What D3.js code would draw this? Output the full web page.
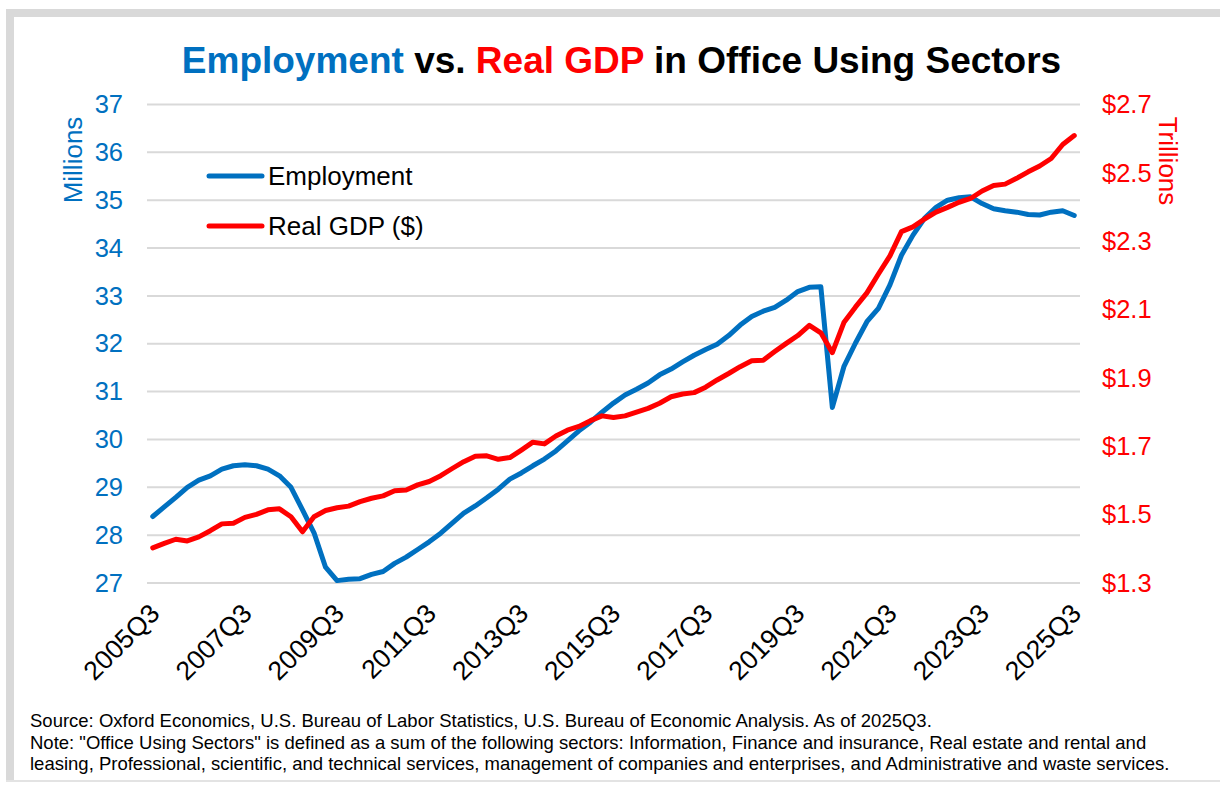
<!DOCTYPE html>
<html>
<head>
<meta charset="utf-8">
<script src="https://cdn.jsdelivr.net/npm/d3@7/dist/d3.min.js"></script>
<style>
  body { margin: 0; background: #ffffff; }
  svg { display: block; font-family: "Liberation Sans", Arial, sans-serif; }
</style>
</head>
<body>
<div id="chart"></div>
<script>
// quarterly series, 2005Q3 .. 2025Q3
const startYear = 2005;
const startQuarter = 3;
const employment = [
    28.39, 28.59, 28.79, 29.00, 29.15, 29.24, 29.38, 29.45, 29.47, 29.45,
    29.38, 29.24, 29.00, 28.53, 28.05, 27.33, 27.05, 27.08, 27.09, 27.18,
    27.24, 27.41, 27.54, 27.70, 27.86, 28.04, 28.25, 28.46, 28.61, 28.78,
    28.96, 29.17, 29.30, 29.45, 29.59, 29.76, 29.97, 30.18, 30.36, 30.57,
    30.76, 30.93, 31.05, 31.18, 31.35, 31.47, 31.62, 31.76, 31.88, 31.99,
    32.17, 32.39, 32.57, 32.68, 32.76, 32.91, 33.09, 33.18, 33.19, 30.67,
    31.52, 32.01, 32.46, 32.74, 33.23, 33.85, 34.27, 34.62, 34.85, 35.00,
    35.05, 35.07, 34.93, 34.82, 34.78, 34.75, 34.70, 34.69, 34.75, 34.78,
    34.68
];
const realGdp = [
    1.403, 1.416, 1.428, 1.423, 1.435, 1.453, 1.473, 1.475, 1.492, 1.501,
    1.514, 1.517, 1.494, 1.450, 1.494, 1.512, 1.520, 1.525, 1.538, 1.548,
    1.555, 1.570, 1.572, 1.587, 1.597, 1.614, 1.635, 1.655, 1.671, 1.672,
    1.662, 1.667, 1.689, 1.712, 1.707, 1.730, 1.747, 1.758, 1.775, 1.789,
    1.784, 1.789, 1.800, 1.811, 1.826, 1.845, 1.853, 1.857, 1.873, 1.894,
    1.913, 1.933, 1.950, 1.952, 1.977, 2.001, 2.024, 2.054, 2.032, 1.974,
    2.062, 2.107, 2.149, 2.204, 2.257, 2.328, 2.342, 2.365, 2.385, 2.399,
    2.414, 2.425, 2.447, 2.463, 2.467, 2.484, 2.503, 2.520, 2.542, 2.583,
    2.609
];
const xTickLabels = ["2005Q3", "2007Q3", "2009Q3", "2011Q3", "2013Q3", "2015Q3", "2017Q3", "2019Q3", "2021Q3", "2023Q3", "2025Q3"];
const leftTicks = [27, 28, 29, 30, 31, 32, 33, 34, 35, 36, 37];
const rightTicks = [1.3, 1.5, 1.7, 1.9, 2.1, 2.3, 2.5, 2.7];
const seriesNames = ["Employment", "Real GDP ($)"];
const footnotes = [
    "Source: Oxford Economics, U.S. Bureau of Labor Statistics, U.S. Bureau of Economic Analysis. As of 2025Q3.",
    "Note: \"Office Using Sectors\" is defined as a sum of the following sectors: Information, Finance and insurance, Real estate and rental and",
    "leasing, Professional, scientific, and technical services, management of companies and enterprises, and Administrative and waste services."
];

function drawChart() {
    const width = 1220;
    const height = 786;
    const blue = "#0070c0";
    const red = "#ff0000";
    const plot = { left: 147, right: 1080, top: 104.5, bottom: 583 };

    const quarters = employment.map((_, i) => {
        const q = startQuarter - 1 + i;
        return `${startYear + Math.floor(q / 4)}Q${(q % 4) + 1}`;
    });

    const svg = d3.select("#chart").append("svg").attr("width", width).attr("height", height);

    // frame
    svg.append("rect").attr("x", 6).attr("y", 9).attr("width", width).attr("height", 8).attr("fill", "#d9d9d9");
    svg.append("rect").attr("x", 6).attr("y", 9).attr("width", 8).attr("height", 773).attr("fill", "#d9d9d9");
    svg.append("rect").attr("x", 6).attr("y", 780).attr("width", width).attr("height", 2).attr("fill", "#e3e3e3");

    const x = d3.scalePoint().domain(quarters).range([plot.left, plot.right]).padding(0.5);
    const yLeft = d3.scaleLinear().domain([27, 37]).range([plot.bottom, plot.top]);
    const yRight = d3.scaleLinear().domain([1.3, 2.7]).range([plot.bottom, plot.top]);

    // title
    const title = svg.append("text").attr("x", 621.5).attr("y", 73).attr("text-anchor", "middle")
        .style("font-size", "37px").style("font-weight", "700");
    title.append("tspan").attr("fill", blue).text("Employment");
    title.append("tspan").attr("fill", "#000").text(" vs. ");
    title.append("tspan").attr("fill", red).text("Real GDP");
    title.append("tspan").attr("fill", "#000").text(" in Office Using Sectors");

    // gridlines
    svg.append("g").selectAll("line").data(leftTicks).join("line")
        .attr("x1", plot.left).attr("x2", plot.right)
        .attr("y1", d => yLeft(d)).attr("y2", d => yLeft(d))
        .attr("stroke", "#d9d9d9").attr("stroke-width", 2);

    // left axis
    const leftAxis = svg.append("g").attr("transform", `translate(${plot.left},0)`)
        .call(d3.axisLeft(yLeft).tickValues(leftTicks).tickSize(0).tickPadding(24).tickFormat(d3.format("d")));
    leftAxis.select(".domain").remove();
    leftAxis.selectAll("text").attr("fill", blue).style("font-size", "25.5px").style("font-family", "inherit");

    // right axis
    const rightAxis = svg.append("g").attr("transform", `translate(${plot.right},0)`)
        .call(d3.axisRight(yRight).tickValues(rightTicks).tickSize(0).tickPadding(22).tickFormat(d => "$" + d3.format(".1f")(d)));
    rightAxis.select(".domain").remove();
    rightAxis.selectAll("text").attr("fill", red).style("font-size", "25.5px").style("font-family", "inherit");

    // x axis
    const xAxis = svg.append("g").attr("transform", `translate(0,${plot.bottom})`)
        .call(d3.axisBottom(x).tickValues(xTickLabels).tickSize(0).tickPadding(0));
    xAxis.select(".domain").remove();
    xAxis.selectAll("text")
        .attr("fill", "#000").style("font-size", "26.5px").style("font-family", "inherit")
        .attr("text-anchor", "end").attr("dy", null).attr("y", 0)
        .attr("transform", "translate(8,32) rotate(-45)");

    // axis titles
    svg.append("text").attr("transform", "translate(82,160) rotate(-90)").attr("text-anchor", "middle")
        .attr("fill", blue).style("font-size", "26px").text("Millions");
    svg.append("text").attr("transform", "translate(1159,161) rotate(90)").attr("text-anchor", "middle")
        .attr("fill", red).style("font-size", "26px").text("Trillions");

    // lines
    const empLine = d3.line().x((d, i) => x(quarters[i])).y(d => yLeft(d));
    const gdpLine = d3.line().x((d, i) => x(quarters[i])).y(d => yRight(d));
    svg.append("path").datum(employment).attr("d", empLine).attr("fill", "none")
        .attr("stroke", blue).attr("stroke-width", 5).attr("stroke-linejoin", "round").attr("stroke-linecap", "round");
    svg.append("path").datum(realGdp).attr("d", gdpLine).attr("fill", "none")
        .attr("stroke", red).attr("stroke-width", 5).attr("stroke-linejoin", "round").attr("stroke-linecap", "round");

    // legend
    const legend = svg.append("g").selectAll("g").data(seriesNames).join("g")
        .attr("transform", (d, i) => `translate(209,${176 + i * 50})`);
    legend.append("line").attr("x1", 0).attr("x2", 53).attr("stroke", (d, i) => i === 0 ? blue : red)
        .attr("stroke-width", 5).attr("stroke-linecap", "round");
    legend.append("text").attr("x", 59).attr("y", 9).attr("fill", "#000").style("font-size", "26px").text(d => d);

    // footnotes
    svg.append("g").selectAll("text").data(footnotes).join("text")
        .attr("x", 30).attr("y", (d, i) => 727 + i * 21.5)
        .attr("fill", "#000").style("font-size", "18.5px").text(d => d);
}

drawChart();
</script>
</body>
</html>
